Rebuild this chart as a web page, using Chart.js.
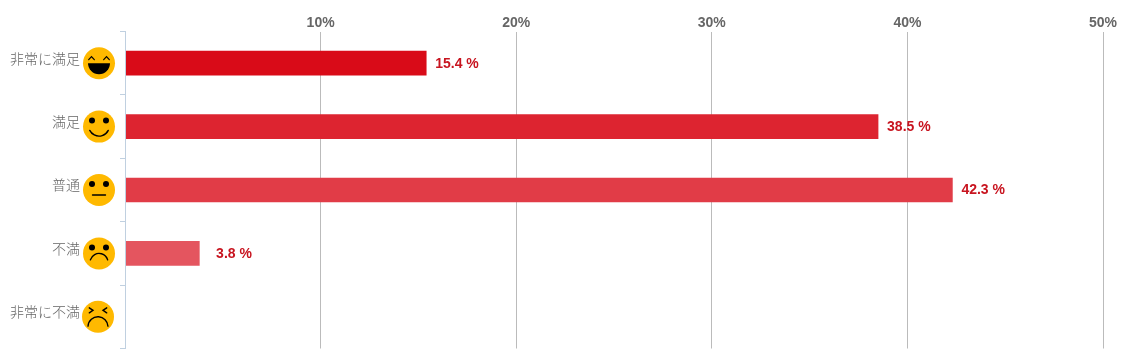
<!DOCTYPE html>
<html><head><meta charset="utf-8">
<style>html,body{margin:0;padding:0;background:#fff}canvas{display:block}</style>
<script src="https://cdn.jsdelivr.net/npm/chart.js@4"></script></head>
<body><canvas id="c" width="1123" height="363"></canvas>
<script>
const categories = ["非常に満足","満足","普通","不満","非常に不満"];
const values = [15.4,38.5,42.3,3.8,0];
const barColors = ["#D90B18","#DD2430","#E13C47","#E4555F","#E96D76"];
const faces = ["laugh","smile","neutral","sad","cry"];
const axisMax = 50, axisStep = 10;

const faceX = 99, faceR = 16;
function drawFace(ctx, kind, x, y){
  const r = faceR;
  ctx.save(); ctx.translate(x,y);
  ctx.fillStyle="#FFB900"; ctx.beginPath(); ctx.arc(0,0,r,0,Math.PI*2); ctx.fill();
  ctx.fillStyle="#000"; ctx.strokeStyle="#000"; ctx.lineWidth=1.4; ctx.lineCap="round";
  const dots=()=>{[-7,7].forEach(d=>{ctx.beginPath();ctx.arc(d,-6,3,0,Math.PI*2);ctx.fill();});};
  if(kind==="laugh"){
    ctx.lineWidth=1.2;
    [-7.5,7.5].forEach(d=>{ctx.beginPath();ctx.moveTo(d-2.8,-3.5);ctx.lineTo(d,-6.5);ctx.lineTo(d+2.8,-3.5);ctx.stroke();});
    ctx.beginPath();ctx.moveTo(-11,0);ctx.lineTo(11,0);ctx.arc(0,0,11,0,Math.PI);ctx.closePath();ctx.fill();
  } else if(kind==="smile"){
    dots(); ctx.beginPath();ctx.arc(0,-0.9,10.4,Math.PI*0.15,Math.PI*0.85);ctx.stroke();
  } else if(kind==="neutral"){
    dots(); ctx.beginPath();ctx.moveTo(-6.5,5);ctx.lineTo(6.5,5);ctx.stroke();
  } else if(kind==="sad"){
    dots(); ctx.beginPath();ctx.arc(0,9,9,Math.PI*1.09,Math.PI*1.91);ctx.stroke();
  } else {
    ctx.beginPath();ctx.moveTo(-8.7,-9);ctx.lineTo(-5,-6.5);ctx.lineTo(-8.7,-4);ctx.stroke();
    ctx.beginPath();ctx.moveTo(8.7,-9);ctx.lineTo(5,-6.5);ctx.lineTo(8.7,-4);ctx.stroke();
    ctx.beginPath();ctx.arc(0,10,10,Math.PI*1.02,Math.PI*1.98);ctx.stroke();
  }
  ctx.restore();
}
const decorations = {
  id:"decorations",
  afterDraw(chart){
    const {ctx,scales:{x,y}} = chart;
    faces.forEach((f,i)=>drawFace(ctx,f,faceX-(i===4?1:0),y.getPixelForValue(i)));
    ctx.save();
    ctx.font="bold 14px 'Liberation Sans'";
    ctx.fillStyle="#C8141F"; ctx.textAlign="right"; ctx.textBaseline="middle";
    const w = ctx.measureText("00.0 %").width;
    values.forEach((v,i)=>{
      if(!v) return;
      ctx.fillText(v.toFixed(1)+" %", x.getPixelForValue(v)+9+w, y.getPixelForValue(i)+0.5);
    });
    ctx.restore();
  }
};
new Chart(document.getElementById("c"),{
  type:"bar",
  data:{labels:categories,datasets:[{data:values,backgroundColor:barColors,barThickness:24,borderWidth:0}]},
  options:{
    indexAxis:"y",responsive:false,animation:false,devicePixelRatio:1,
    layout:{padding:{left:0,right:20,top:0,bottom:14.5}},
    plugins:{legend:{display:false},tooltip:{enabled:false},title:{display:false}},
    scales:{
      x:{position:"top",min:0,max:axisMax,afterFit(s){s.height=31.5;s.paddingLeft=0;s.paddingRight=0;},
        border:{display:false},
        grid:{color:"#BBBBBB",lineWidth:1,drawTicks:false},
        ticks:{stepSize:axisStep,padding:0,maxRotation:0,color:"#666666",font:{family:"'Liberation Sans'",size:14,weight:"bold"},
          callback:v=>v===0?"":v+"%"}},
      y:{afterFit(s){s.width=125;s.paddingTop=0;s.paddingBottom=0;},
        border:{display:true,color:"#C0D0E0",width:1,z:1},
        grid:{drawOnChartArea:false,color:"#C0D0E0",tickLength:5,offset:true},
        ticks:{padding:40,labelOffset:-5,color:"#666666",font:{family:"'Noto Sans CJK JP'",size:14,weight:"300"}}}
    }
  },
  plugins:[decorations]
});
</script></body></html>
